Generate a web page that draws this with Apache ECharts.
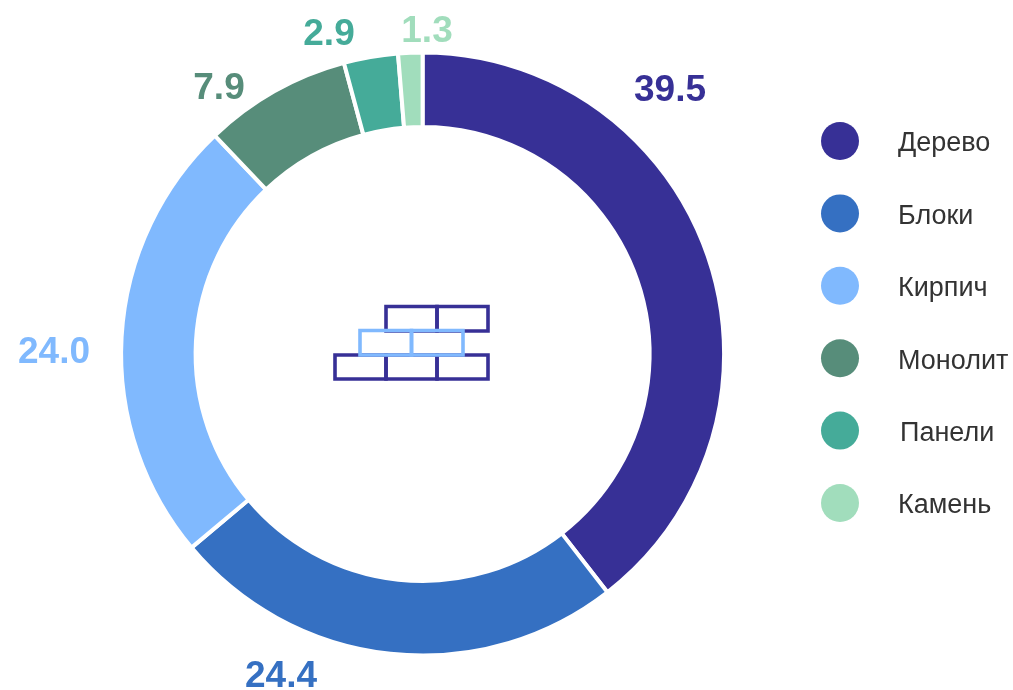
<!DOCTYPE html>
<html><head><meta charset="utf-8">
<style>html,body{margin:0;padding:0;background:#fff}#c{width:1013px;height:690px}</style>
<script src="https://cdn.jsdelivr.net/npm/echarts@6/dist/echarts.min.js"></script>
</head><body><div id="c"></div>
<script>
const categories=["Дерево","Блоки","Кирпич","Монолит","Панели","Камень"];
const values=[39.5,24.4,24.0,7.9,2.9,1.3];
const colors=["#373096","#3570C2","#80B9FE","#578D7A","#45AB99","#A1DDBC"];
const labelX=[670,281,54,219,329,427];
const labelY=[91,677,353,89,35,32];
const DARK=colors[0],LIGHT=colors[2];
function brick(x,y,w,h,c){return {type:'rect',shape:{x,y,width:w,height:h},style:{fill:'none',stroke:c,lineWidth:3.6},silent:true,z:10};}
const chart=echarts.init(document.getElementById('c'),null,{renderer:'canvas'});
const legendFont={fontFamily:'Liberation Sans',fontSize:27,color:'#333'};
const legendRich={t:{...legendFont,lineHeight:31,verticalAlign:'top',padding:[5,0,0,0]}};
chart.setOption({
 animation:false,
 color:colors,
 legend:{orient:'vertical',left:821,top:122,padding:0,itemWidth:38,itemHeight:38,itemGap:34.4,icon:'circle',
  formatter:'{t|{name}}',
  data:categories.map(n=>({name:n,textStyle:{...legendFont,rich:legendRich,padding:[0,0,0,n==="Панели"?36:34]}})),
  selectedMode:false,itemStyle:{borderWidth:0},
  textStyle:{...legendFont,rich:legendRich,padding:[0,0,0,34]}},
 graphic:[
  brick(386,306.5,51,24.5,DARK),brick(437,306.5,51,24.5,DARK),
  brick(335,355,51,24,DARK),brick(386,355,51,24,DARK),brick(437,355,51,24,DARK),
  brick(360,330.5,51.5,24.5,LIGHT),brick(411.5,330.5,51.5,24.5,LIGHT)
 ],
 series:[{type:'pie',center:[422.6,354],radius:[227,301.5],startAngle:90,clockwise:true,
  avoidLabelOverlap:false,
  itemStyle:{borderColor:'#fff',borderWidth:4},
  emphasis:{disabled:true},
  labelLine:{show:false},
  label:{show:true,position:'outside',fontFamily:'Liberation Sans',fontWeight:'bold',fontSize:37,
   formatter:p=>p.value.toFixed(1)},
  labelLayout:p=>({x:labelX[p.dataIndex],y:labelY[p.dataIndex],align:'center',verticalAlign:'middle',hideOverlap:false}),
  data:categories.map((n,i)=>({name:n,value:values[i],label:{color:colors[i]}}))
 }]
});
</script></body></html>
